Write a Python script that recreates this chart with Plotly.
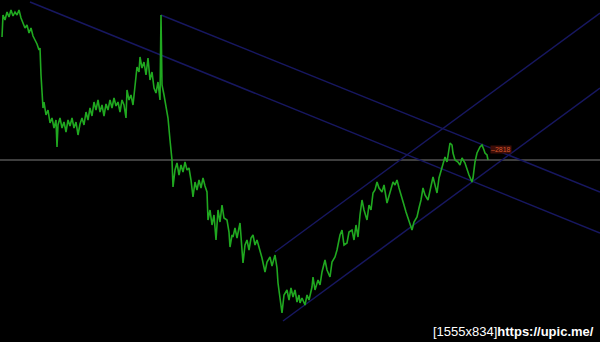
import plotly.graph_objects as go

# price path (x = bar position, y = screen level, 0 at top)
price_x = [2,3,5,7,9,11,13,15,17,19,21,23,25,27,29,31,33,35,37,39,40,41,42,43,44,46,48,50,52,54,56,57,58,60,62,64,66,68,70,72,74,76,78,80,82,84,86,88,90,92,94,96,98,100,102,104,106,108,110,112,114,116,118,120,122,124,126,127,129,131,133,135,137,139,140,142,144,146,148,150,152,154,156,158,160,161,162,164,166,168,170,172,173,175,177,179,181,183,185,187,189,191,193,195,197,199,201,203,205,207,208,210,212,214,216,218,220,222,224,227,229,230,232,233,235,237,240,242,243,245,247,249,251,253,255,257,260,262,265,267,270,272,275,277,278,280,282,284,287,289,291,293,295,297,299,300,302,305,307,309,312,313,315,318,320,322,325,327,330,332,335,337,340,342,344,347,349,352,354,356,358,360,362,364,367,369,371,373,375,377,379,382,384,387,389,391,393,395,397,399,402,404,406,408,410,412,414,417,419,421,423,425,428,430,433,435,437,439,442,444,445,447,450,452,453,455,458,460,462,465,467,469,472,473,475,477,480,482,484,485,487,488]
price_y = [37,15,20,12,17,10,16,12,15,10,18,24,28,25,33,28,36,40,44,50,48,75,100,108,102,115,110,123,118,128,120,147,125,118,128,122,132,120,126,118,128,122,135,124,118,125,112,120,108,116,102,110,100,112,105,116,104,110,100,108,98,106,102,112,100,105,118,90,100,95,105,82,67,72,57,68,62,75,58,80,72,88,93,82,100,15,85,95,105,118,140,160,187,170,163,175,165,172,162,170,168,180,197,182,190,180,188,178,186,192,220,210,225,215,240,210,222,205,218,220,232,247,235,237,228,238,223,245,263,245,240,250,238,235,245,240,250,258,272,262,257,266,255,268,283,300,313,295,290,300,288,297,290,302,295,303,298,305,295,300,287,277,290,280,285,272,260,270,277,262,257,250,235,230,245,243,232,230,240,225,237,215,200,210,220,205,210,193,190,182,188,192,185,203,195,188,182,185,180,188,200,205,212,218,225,230,222,217,208,200,188,195,200,190,177,185,193,178,167,160,157,162,143,145,153,160,162,165,158,163,170,175,182,178,162,153,147,145,150,153,155,160]

# trend / channel lines: start and end points
lines_x = [[30, 600], [161, 600], [275, 600], [283, 600]]
lines_y = [[2, 233], [15, 192], [252, 13], [321, 88]]

level_y = 160
label_text = "\u20132818"
watermark_a = "[1555x834]"
watermark_b = "https://upic.me/"

fig = go.Figure()

fig.add_trace(go.Scatter(x=[0, 600], y=[level_y, level_y], mode="lines",
                         line=dict(color="#7c7c7c", width=1), hoverinfo="skip"))

for lx, ly in zip(lines_x, lines_y):
    fig.add_trace(go.Scatter(x=lx, y=ly, mode="lines",
                             line=dict(color="#171760", width=1.5), hoverinfo="skip"))

fig.add_trace(go.Scatter(x=price_x, y=price_y, mode="lines",
                         line=dict(color="#20a820", width=1.6), hoverinfo="skip"))

fig.add_annotation(x=490, y=149, xref="x", yref="y", text=label_text, showarrow=False,
                   xanchor="left", yanchor="middle",
                   font=dict(family="Liberation Sans", size=7, color="#d0542a"),
                   bgcolor="#3e0e08", borderpad=0)

fig.add_annotation(x=596, y=331, xref="x", yref="y",
                   text=watermark_a + "<b>" + watermark_b + "</b>", showarrow=False,
                   xanchor="right", yanchor="middle",
                   font=dict(family="Liberation Sans", size=13, color="#ffffff"))

fig.update_layout(
    width=600, height=342,
    margin=dict(l=0, r=0, t=0, b=0),
    paper_bgcolor="#000000", plot_bgcolor="#000000",
    showlegend=False,
    xaxis=dict(range=[0, 600], visible=False, fixedrange=True),
    yaxis=dict(range=[342, 0], visible=False, fixedrange=True),
)

fig.write_html("out.html", config={"displayModeBar": False})
